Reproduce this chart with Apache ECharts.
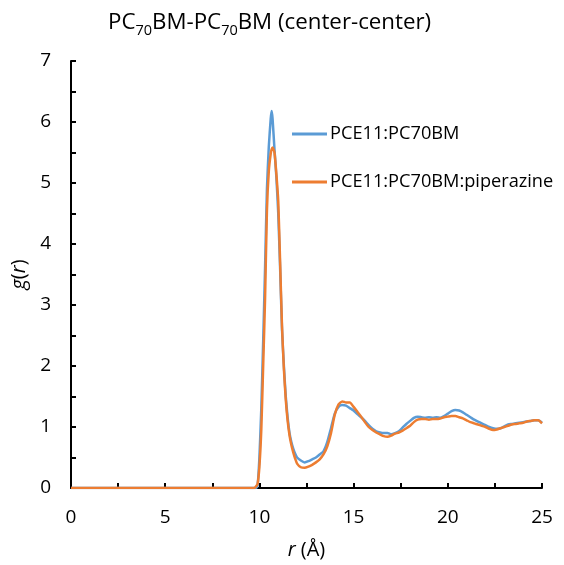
<!DOCTYPE html>
<html>
<head>
<meta charset="utf-8">
<script src="https://cdn.jsdelivr.net/npm/echarts@6/dist/echarts.min.js"></script>
<style>
  html, body { margin: 0; padding: 0; background: #fff; }
  #chart { width: 564px; height: 565px; }
</style>
</head>
<body>
<div id="chart"></div>
<script>
// r (Å) 取样点
const rValues = [0, 9.7, 9.8, 9.9, 10.0, 10.1, 10.2, 10.3, 10.4, 10.5, 10.6, 10.65, 10.7, 10.8, 10.9, 11.0, 11.1, 11.2, 11.3, 11.4, 11.5, 11.6, 11.7, 11.8, 11.9, 12.0, 12.2, 12.4, 12.6, 12.8, 13.0, 13.2, 13.4, 13.6, 13.8, 14.0, 14.2, 14.4, 14.6, 14.8, 15.0, 15.2, 15.4, 15.6, 15.8, 16.0, 16.2, 16.4, 16.6, 16.8, 17.0, 17.2, 17.4, 17.6, 17.8, 18.0, 18.2, 18.4, 18.6, 18.8, 19.0, 19.2, 19.4, 19.6, 19.8, 20.0, 20.2, 20.4, 20.6, 20.8, 21.0, 21.2, 21.4, 21.6, 21.8, 22.0, 22.2, 22.4, 22.6, 22.8, 23.0, 23.2, 23.4, 23.6, 23.8, 24.0, 24.2, 24.4, 24.6, 24.8, 25.0]
// PCE11:PC70BM
const gBlend = [0, 0, 0, 0.03, 0.5, 1.3, 2.4, 3.6, 4.9, 5.6, 6.05, 6.18, 6.05, 5.55, 5.1, 4.5, 3.6, 2.6, 2.0, 1.5, 1.15, 0.9, 0.75, 0.64, 0.56, 0.5, 0.45, 0.42, 0.44, 0.47, 0.5, 0.55, 0.6, 0.75, 0.98, 1.22, 1.33, 1.36, 1.35, 1.31, 1.27, 1.21, 1.16, 1.1, 1.03, 0.97, 0.93, 0.91, 0.9, 0.9, 0.88, 0.9, 0.93, 0.99, 1.05, 1.1, 1.15, 1.17, 1.16, 1.15, 1.16, 1.15, 1.16, 1.15, 1.18, 1.22, 1.26, 1.28, 1.27, 1.24, 1.2, 1.16, 1.12, 1.09, 1.06, 1.03, 1.0, 0.98, 0.97, 0.98, 1.01, 1.04, 1.05, 1.06, 1.07, 1.08, 1.09, 1.1, 1.11, 1.11, 1.07]
// PCE11:PC70BM:piperazine
const gPiperazine = [0, 0, 0.02, 0.06, 0.35, 0.95, 2.0, 3.1, 4.55, 5.2, 5.48, 5.55, 5.58, 5.5, 5.15, 4.7, 3.7, 2.65, 1.95, 1.45, 1.1, 0.86, 0.7, 0.58, 0.48, 0.4, 0.34, 0.33, 0.35, 0.38, 0.42, 0.47, 0.55, 0.68, 0.9, 1.2, 1.37, 1.42, 1.4, 1.4, 1.33, 1.25, 1.17, 1.08, 1.0, 0.95, 0.91, 0.88, 0.85, 0.84, 0.86, 0.89, 0.91, 0.94, 0.98, 1.02, 1.08, 1.12, 1.13, 1.13, 1.12, 1.13, 1.13, 1.14, 1.16, 1.17, 1.18, 1.18, 1.16, 1.14, 1.11, 1.08, 1.06, 1.04, 1.02, 1.0, 0.97, 0.95, 0.96, 0.98, 1.0, 1.02, 1.04, 1.05, 1.06, 1.07, 1.09, 1.1, 1.11, 1.11, 1.06]
const seriesNames = ['PCE11:PC70BM', 'PCE11:PC70BM:piperazine']

const font = '"Open Sans", "Liberation Sans", sans-serif'
const toPairs = (ys) => rValues.map((r, i) => [r, ys[i]])

const chart = echarts.init(document.getElementById('chart'))
chart.setOption({
  animation: false,
  color: ['#5b9bd5', '#ed7d31'],
  title: {
    text: 'PC{s|70}BM-PC{s|70}BM (center-center)',
    left: 108,
    top: 7,
    padding: 0,
    textStyle: {
      fontFamily: font,
      fontSize: 22.3,
      fontWeight: 'normal',
      color: '#000',
      rich: {
        s: { fontFamily: font, fontSize: 14.5, color: '#000', padding: [16, 0, 0, 0] }
      }
    }
  },
  legend: {
    orient: 'vertical',
    left: 292,
    top: 125,
    padding: 0,
    itemGap: 30,
    itemWidth: 35,
    itemHeight: 3,
    icon: 'rect',
    data: seriesNames,
    textStyle: { fontFamily: font, fontSize: 18.2, color: '#000', padding: [0, 0, 0, -2] }
  },
  grid: { left: 71, right: 22, top: 61, bottom: 76 },
  xAxis: {
    type: 'value',
    min: 0,
    max: 25,
    interval: 5,
    name: '{i|r} (Å)',
    nameLocation: 'middle',
    nameGap: 52,
    nameTextStyle: {
      fontFamily: font, fontSize: 20, color: '#000',
      rich: { i: { fontFamily: font, fontSize: 20, fontStyle: 'italic', color: '#000' } }
    },
    axisLine: { lineStyle: { color: '#000', width: 2 } },
    axisTick: { inside: true, length: 5, lineStyle: { color: '#000', width: 2 } },
    minorTick: { show: true, splitNumber: 2, length: 5, lineStyle: { color: '#000', width: 2 } },
    axisLabel: { fontFamily: font, fontSize: 19, color: '#000', margin: 20 },
    splitLine: { show: false }
  },
  yAxis: {
    type: 'value',
    min: 0,
    max: 7,
    interval: 1,
    name: '{i|g}({i|r})',
    nameLocation: 'middle',
    nameGap: 30,
    nameTextStyle: {
      fontFamily: font, fontSize: 20, color: '#000',
      rich: { i: { fontFamily: font, fontSize: 20, fontStyle: 'italic', color: '#000' } }
    },
    axisLine: { show: true, lineStyle: { color: '#000', width: 2 } },
    axisTick: { show: true, inside: true, length: 5, lineStyle: { color: '#000', width: 2 } },
    minorTick: { show: true, splitNumber: 2, length: 5, lineStyle: { color: '#000', width: 2 } },
    axisLabel: { fontFamily: font, fontSize: 19, color: '#000', margin: 20 },
    splitLine: { show: false }
  },
  series: [
    {
      name: seriesNames[0],
      type: 'line',
      showSymbol: false,
      smooth: 0.2,
      lineStyle: { width: 2.5 },
      data: toPairs(gBlend)
    },
    {
      name: seriesNames[1],
      type: 'line',
      showSymbol: false,
      smooth: 0.2,
      lineStyle: { width: 2.5 },
      data: toPairs(gPiperazine)
    }
  ]
})
</script>
</body>
</html>
